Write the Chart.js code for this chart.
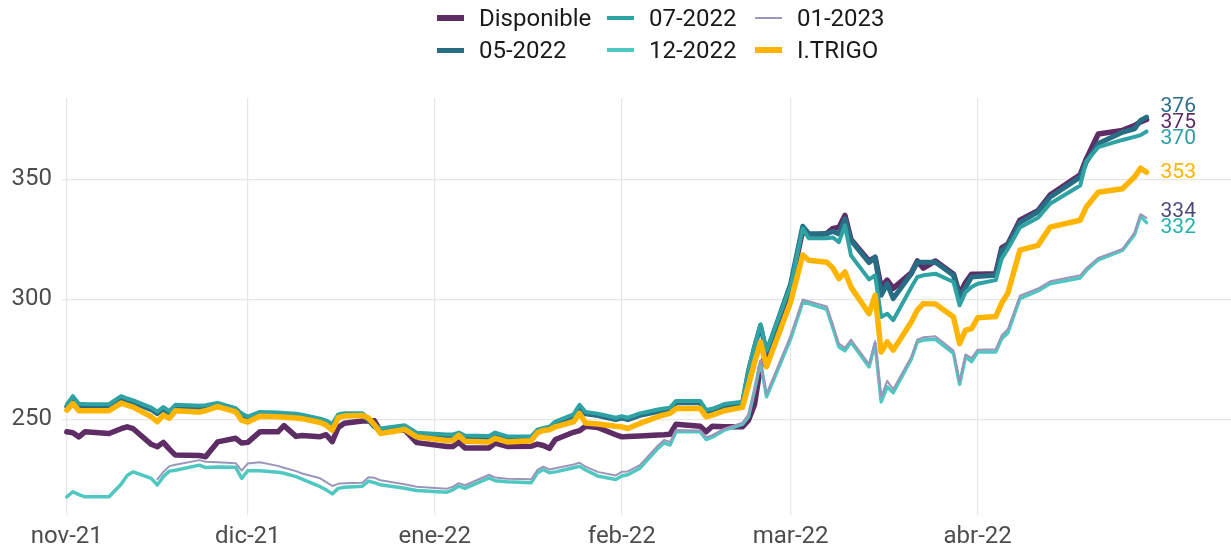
<!DOCTYPE html>
<html lang="es">
<head>
<meta charset="utf-8">
<title>Trigo - precios</title>
<script src="https://cdn.jsdelivr.net/npm/chart.js@4.4.1/dist/chart.umd.min.js"></script>
<style>
  html, body { margin: 0; padding: 0; background: #fff; }
  #wrap { position: relative; width: 1231px; height: 547px; }
  #chart { position: absolute; left: 0; top: 0; }
  #legend {
    position: absolute; left: 437px; top: 2px;
    display: grid; grid-auto-flow: column;
    grid-template-rows: 32px 32px;
    grid-template-columns: 170px 148px auto;
    font-family: Roboto, 'Noto Sans', sans-serif; font-size: 24px; color: #1a1a1a;
  }
  .item { display: flex; align-items: center; white-space: nowrap; }
  .swatch { display: inline-block; width: 27px; margin-right: 15px; }
</style>
</head>
<body>
<div id="wrap">
  <canvas id="chart" width="1231" height="547"></canvas>
  <div id="legend"></div>
</div>
<script>
const FONT = "Roboto, 'Noto Sans', sans-serif";

// business days
const dates = [
  // nov-21
  '2021-11-01','2021-11-02','2021-11-03','2021-11-04','2021-11-08','2021-11-10','2021-11-11','2021-11-12',
  '2021-11-15','2021-11-16','2021-11-17','2021-11-18','2021-11-19','2021-11-23','2021-11-24','2021-11-26',
  '2021-11-29','2021-11-30',
  // dic-21
  '2021-12-01','2021-12-03','2021-12-06','2021-12-07','2021-12-09','2021-12-10','2021-12-13','2021-12-14',
  '2021-12-15','2021-12-16','2021-12-17','2021-12-20','2021-12-21','2021-12-22','2021-12-23','2021-12-27','2021-12-29',
  // ene-22
  '2022-01-03','2022-01-04','2022-01-05','2022-01-06','2022-01-10','2022-01-11','2022-01-13','2022-01-17',
  '2022-01-18','2022-01-19','2022-01-20','2022-01-21','2022-01-24','2022-01-25','2022-01-26','2022-01-28','2022-01-31',
  // feb-22
  '2022-02-01','2022-02-02','2022-02-04','2022-02-07','2022-02-08','2022-02-09','2022-02-10','2022-02-14',
  '2022-02-15','2022-02-16','2022-02-18','2022-02-21','2022-02-22','2022-02-23','2022-02-24','2022-02-25',
  // mar-22
  '2022-03-01','2022-03-03','2022-03-04','2022-03-07','2022-03-08','2022-03-09','2022-03-10','2022-03-11',
  '2022-03-14','2022-03-15','2022-03-16','2022-03-17','2022-03-18','2022-03-21','2022-03-22','2022-03-23',
  '2022-03-25','2022-03-28','2022-03-29','2022-03-30','2022-03-31',
  // abr-22
  '2022-04-01','2022-04-04','2022-04-05','2022-04-06','2022-04-08','2022-04-11','2022-04-13','2022-04-18',
  '2022-04-19','2022-04-21','2022-04-25','2022-04-27','2022-04-28','2022-04-29'
];

const disponible = [
  244.7, 244.3, 242.6, 244.7, 244.0, 246.0, 246.8, 246.0, 239.5, 238.5, 240.3, 237.5, 235.0, 234.8, 234.3, 240.5, 242.0, 240.0,
  240.3, 244.7, 244.7, 247.3, 242.8, 243.2, 242.7, 243.5, 240.6, 246.5, 248.3, 249.2, 249.2, 249.3, 245.0, 245.5, 240.2,
  238.6, 238.6, 240.4, 238.0, 238.0, 240.0, 238.6, 238.7, 239.6, 239.0, 237.8, 241.5, 244.5, 245.2, 247.0, 246.5, 243.5,
  242.6, 242.8, 243.0, 243.4, 243.5, 243.7, 247.9, 247.0, 244.7, 247.0, 246.8, 246.8, 249.5, 256.0, 272.0, 277.0,
  305.0, 329.0, 326.5, 327.5, 329.6, 330.0, 335.0, 325.0, 316.0, 317.5, 305.0, 308.0, 304.6, 311.0, 316.0, 313.0, 316.0, 310.5, 302.0, 307.0, 310.5,
  310.5, 310.7, 321.5, 323.0, 333.0, 337.0, 343.5, 352.0, 358.5, 369.0, 370.5, 372.5, 374.0, 375.0
];

const may22 = [
  255.3, 258.8, 255.6, 255.5, 255.4, 258.8, 257.8, 257.0, 254.0, 252.3, 254.2, 252.5, 255.2, 254.8, 255.0, 256.0, 253.8, 251.5,
  250.3, 252.2, 252.0, 251.8, 251.5, 251.0, 249.4, 248.6, 247.1, 251.2, 251.7, 251.7, 249.5, 246.8, 245.3, 246.7, 243.5,
  242.8, 242.8, 243.6, 242.4, 242.2, 243.6, 242.0, 242.0, 244.8, 245.5, 246.0, 248.2, 251.2, 255.2, 252.2, 251.5, 249.8,
  250.4, 249.8, 251.6, 253.2, 253.6, 254.0, 256.8, 256.8, 253.0, 253.5, 255.5, 256.5, 270.0, 280.0, 289.0, 277.8,
  306.5, 330.5, 327.4, 327.4, 328.3, 327.3, 333.6, 324.6, 315.3, 317.6, 301.7, 306.5, 300.3, 310.7, 315.5, 315.5, 315.5, 310.0, 301.0, 305.0, 309.3,
  309.5, 310.0, 320.4, 322.5, 332.0, 336.5, 342.6, 351.0, 357.2, 365.0, 369.7, 371.1, 374.6, 376.0
];

const jul22 = [
  256.1, 259.6, 256.4, 256.3, 256.2, 259.6, 258.6, 257.8, 254.8, 253.1, 255.0, 253.3, 256.0, 255.6, 255.8, 256.8, 254.6, 252.3,
  251.1, 253.0, 252.8, 252.6, 252.3, 251.8, 250.2, 249.4, 247.9, 252.0, 252.5, 252.5, 250.3, 247.6, 246.1, 247.5, 244.3,
  243.6, 243.6, 244.4, 243.2, 243.0, 244.4, 242.8, 242.8, 245.6, 246.3, 246.8, 249.0, 252.0, 256.0, 253.0, 252.3, 250.6,
  251.2, 250.6, 252.4, 254.0, 254.4, 254.8, 257.6, 257.6, 253.8, 254.3, 256.3, 257.3, 270.5, 280.5, 289.6, 278.6,
  305.8, 329.6, 325.5, 325.5, 325.8, 323.9, 330.8, 318.3, 308.3, 310.0, 292.6, 294.0, 291.3, 305.0, 309.3, 310.0, 310.7, 307.2, 297.5, 303.0, 305.1,
  306.5, 308.0, 317.0, 321.0, 330.0, 334.0, 339.9, 347.5, 357.5, 363.5, 366.5, 367.8, 368.5, 370.0
];

const dic22 = [
  217.6, 219.7, 218.5, 217.6, 217.6, 222.8, 226.5, 228.0, 225.3, 222.5, 226.0, 228.3, 228.7, 230.8, 229.8, 230.0, 229.9, 225.3,
  228.5, 228.5, 227.8, 227.4, 226.0, 225.0, 221.8, 220.5, 218.8, 221.1, 221.6, 222.0, 224.1, 223.5, 222.6, 221.2, 220.2,
  219.5, 220.5, 222.1, 221.1, 225.5, 224.3, 223.9, 223.5, 227.5, 229.0, 227.6, 228.0, 229.7, 230.3, 228.8, 226.3, 224.8,
  226.3, 226.8, 229.5, 237.8, 240.1, 239.2, 244.7, 244.7, 241.5, 242.5, 245.4, 247.8, 251.0, 262.0, 274.0, 259.3,
  283.5, 298.9, 298.2, 295.8, 288.0, 280.1, 278.5, 282.2, 271.8, 281.5, 257.2, 263.5, 261.0, 275.0, 282.2, 283.0, 283.3, 277.4, 264.5, 276.0, 274.0,
  278.0, 278.0, 283.6, 286.0, 300.3, 303.5, 306.5, 308.9, 312.0, 316.5, 320.4, 327.0, 334.7, 332.0
];

const ene23 = [
  null, null, null, null, null, null, null, null, null, 224.9, 228.0, 230.4, 231.0, 232.9, 232.2, 232.0, 231.6, 228.5,
  231.5, 232.0, 230.5, 229.7, 228.3, 227.3, 225.3, 223.7, 222.1, 223.0, 223.2, 223.5, 225.8, 225.5, 224.5, 222.8, 221.8,
  221.0, 221.8, 223.3, 222.4, 226.8, 225.6, 225.1, 224.9, 228.8, 230.2, 229.0, 229.5, 231.1, 231.8, 230.2, 228.0, 226.5,
  228.0, 228.2, 230.8, 239.0, 241.3, 240.5, 245.5, 245.3, 242.5, 243.3, 246.0, 248.5, 252.0, 262.0, 274.5, 260.5,
  285.0, 299.9, 299.2, 297.0, 289.5, 281.5, 279.8, 283.2, 273.0, 282.5, 259.3, 266.0, 262.5, 276.0, 283.2, 284.2, 284.6, 278.6, 265.6, 277.0, 275.5,
  279.0, 279.2, 285.0, 287.5, 301.5, 304.5, 307.5, 310.0, 313.0, 317.3, 321.0, 327.8, 335.5, 334.0
];

const iTrigo = [
  253.8, 256.5, 253.5, 253.5, 253.5, 256.7, 255.8, 255.0, 251.0, 248.9, 251.7, 250.3, 253.5, 253.0, 253.5, 255.2, 253.0, 249.5,
  248.8, 251.2, 251.0, 250.8, 250.5, 250.2, 248.6, 247.5, 245.4, 250.6, 251.3, 251.5, 250.5, 247.6, 244.0, 245.7, 242.6,
  241.1, 241.2, 243.2, 240.8, 240.5, 242.0, 240.5, 241.0, 244.3, 245.3, 245.6, 246.8, 248.9, 252.4, 248.4, 248.0, 247.0,
  246.8, 246.1, 248.2, 251.0, 251.8, 252.4, 254.4, 254.4, 251.0, 251.7, 253.5, 254.9, 264.0, 273.5, 282.2, 271.8,
  299.0, 318.5, 316.3, 315.5, 313.0, 308.6, 311.4, 305.1, 294.0, 301.7, 278.0, 282.2, 278.8, 290.5, 295.5, 298.2, 298.0, 292.6, 281.5, 287.1, 287.8,
  292.3, 292.8, 298.5, 302.5, 320.5, 322.5, 330.1, 333.0, 338.5, 344.7, 346.1, 351.0, 354.7, 353.0
];

const xTickDates  = ['2021-11-01', '2021-12-01', '2022-01-01', '2022-02-01', '2022-03-01', '2022-04-01'];
const xTickLabels = ['nov-21', 'dic-21', 'ene-22', 'feb-22', 'mar-22', 'abr-22'];
const yTicks      = [250, 300, 350];

const DAY0 = Date.UTC(2021, 10, 1);
function dayOf(s) {
  const [y, m, d] = s.split('-').map(Number);
  return (Date.UTC(y, m - 1, d) - DAY0) / 86400000;
}
const xTickDays = xTickDates.map(dayOf);

[disponible, may22, jul22, dic22, ene23, iTrigo].forEach((arr, i) => {
  if (arr.length !== dates.length) throw new Error(`serie ${i}: ${arr.length} vs ${dates.length}`);
});

const toPoints = arr => dates.map((d, i) => ({ x: dayOf(d), y: arr[i] })).filter(p => p.y !== null);

// ggplot-like draw order: first dataset on the bottom, I.TRIGO on top
const series = [
  { label: 'Disponible', values: disponible, color: '#5e2d66', width: 5.5, labelColor: '#5e2d66' },
  { label: '05-2022',    values: may22,      color: '#276e84', width: 5,   labelColor: '#2b6e87' },
  { label: '07-2022',    values: jul22,      color: '#2fa3a3', width: 4,   labelColor: '#2a9fa3' },
  { label: '12-2022',    values: dic22,      color: '#4fc8c2', width: 3.5, labelColor: '#25b0ab' },
  { label: '01-2023',    values: ene23,      color: '#9b96b9', width: 2,   labelColor: '#4b4a78' },
  { label: 'I.TRIGO',    values: iTrigo,     color: '#ffb400', width: 5.5, labelColor: '#ffb300' },
];

const datasets = series.map((s, i) => ({
  label: s.label,
  data: toPoints(s.values),
  borderColor: s.color,
  backgroundColor: s.color,
  borderWidth: s.width,
  labelColor: s.labelColor,
  order: series.length - 1 - i,
}));

// html legend, two rows filled column by column like the original
const legendEl = document.getElementById('legend');
legendEl.innerHTML = series.map(s =>
  `<div class="item"><span class="swatch" style="height:${s.width}px;background:${s.color}"></span>${s.label}</div>`
).join('');

// last value labels at the right end, pushed apart when they collide
const endLabels = {
  id: 'endLabels',
  afterDatasetsDraw(chart) {
    const ctx = chart.ctx;
    const gap = 16;
    const items = chart.data.datasets.map((ds, i) => {
      const pts = chart.getDatasetMeta(i).data;
      const last = pts[pts.length - 1];
      return {
        x: last.x + 14,
        want: last.y,
        text: String(Math.round(ds.data[ds.data.length - 1].y)),
        color: ds.labelColor,
      };
    }).sort((a, b) => a.want - b.want);

    let groups = items.map(it => ({ items: [it], mean: it.want }));
    let merged = true;
    while (merged) {
      merged = false;
      for (let i = 0; i < groups.length - 1; i++) {
        const a = groups[i], b = groups[i + 1];
        const aBottom = a.mean + (a.items.length - 1) * gap / 2;
        const bTop    = b.mean - (b.items.length - 1) * gap / 2;
        if (bTop - aBottom < gap) {
          const all = a.items.concat(b.items);
          groups.splice(i, 2, { items: all, mean: all.reduce((s, it) => s + it.want, 0) / all.length });
          merged = true;
          break;
        }
      }
    }

    ctx.save();
    ctx.font = `21px ${FONT}`;
    ctx.textBaseline = 'middle';
    ctx.textAlign = 'left';
    groups.forEach(g => {
      const top = g.mean - (g.items.length - 1) * gap / 2;
      g.items.forEach((it, k) => {
        ctx.fillStyle = it.color;
        ctx.fillText(it.text, it.x, top + k * gap);
      });
    });
    ctx.restore();
  },
};

new Chart(document.getElementById('chart'), {
  type: 'line',
  data: { datasets },
  plugins: [endLabels],
  options: {
    responsive: false,
    animation: false,
    devicePixelRatio: 1,
    layout: { padding: { top: 98, right: 0, bottom: 0, left: 0 } },
    elements: {
      point: { radius: 0, hoverRadius: 0 },
      line: { tension: 0, borderJoinStyle: 'round', borderCapStyle: 'round' },
    },
    plugins: {
      legend: { display: false },
      tooltip: { enabled: false },
    },
    scales: {
      x: {
        type: 'linear',
        min: -0.8,
        max: 193,
        afterBuildTicks: s => { s.ticks = xTickDays.map(v => ({ value: v })); },
        afterFit: s => { s.height = 32; },
        grid: { color: '#e6e6e6', lineWidth: 1.2, drawTicks: false },
        border: { display: false },
        ticks: {
          autoSkip: false,
          maxRotation: 0,
          padding: 8,
          color: '#4d4d4d',
          font: { family: FONT, size: 24 },
          callback: v => xTickLabels[xTickDays.indexOf(v)] ?? '',
        },
      },
      y: {
        min: 210,
        max: 384,
        afterBuildTicks: s => { s.ticks = yTicks.map(v => ({ value: v })); },
        afterFit: s => { s.width = 62; },
        grid: { color: '#e6e6e6', lineWidth: 1.2, drawTicks: false },
        border: { display: false },
        ticks: {
          padding: 10,
          color: '#4d4d4d',
          font: { family: FONT, size: 24 },
        },
      },
    },
  },
});
</script>
</body>
</html>
